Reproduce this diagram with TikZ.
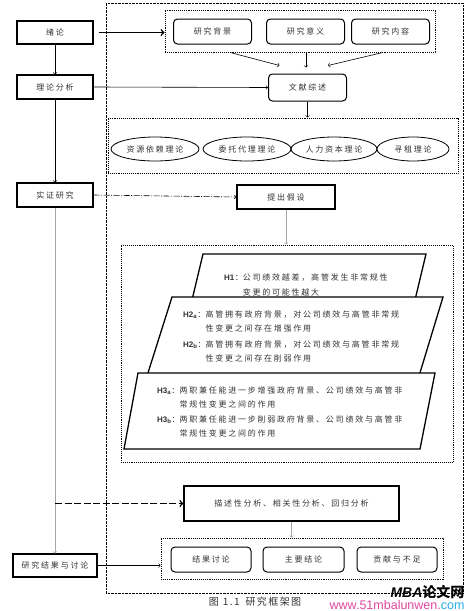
\documentclass[tikz,border=0pt]{standalone}
\usepackage{fontspec}
\setmainfont{Noto Sans CJK SC}[LetterSpace=22]
\newfontfamily\capfont{Noto Sans CJK SC}[LetterSpace=14]
\newfontfamily\markfont{Noto Sans CJK SC}
\newfontfamily\labfont{Liberation Sans}
\usetikzlibrary{shapes.geometric}
\definecolor{urlpink}{RGB}{222,70,160}
\definecolor{urlcyan}{RGB}{40,170,225}
\newcommand{\hlab}[2]{{\labfont\bfseries H#1\textsubscript{#2}}：}

\begin{document}
\begin{tikzpicture}[x=1pt,y=-1pt,
    font=\fontsize{8}{10}\selectfont,
    every node/.append style={text=black!80},
    stage/.style ={rectangle, draw, line width=1.2pt, minimum width=76pt, minimum height=24pt, inner sep=0pt},
    topic/.style ={rectangle, rounded corners=4pt, draw, line width=1pt, minimum width=78pt, minimum height=25pt, inner sep=0pt},
    theory/.style ={ellipse, draw, line width=0.8pt, minimum height=24pt, inner sep=0pt},
    group/.style ={rectangle, draw, densely dotted, line width=0.9pt, inner sep=0pt},
    hypo/.style ={draw, line width=1.3pt, fill=white},
    hyptext/.style ={anchor=west, inner sep=0pt},
    link/.style ={->, line width=0.6pt},
    greylink/.style ={->, line width=0.6pt, draw=black!35}]
   \useasboundingbox (0,0) rectangle (471,611);
   \draw[line width=0.8pt, dash pattern=on 2.5pt off 1pt] (106,3) rectangle (463,593);
   % left column
   \node[stage, minimum height=23pt] (intro) at (55,32.5) {绪论};
   \node[stage] (frame) at (55,87) {理论分析};
   \node[stage] (empiric) at (55,195) {实证研究};
   \node[stage, minimum width=84pt, minimum height=23pt] (outcome) at (55,565.5) {研究结果与讨论};
   % introduction and literature
   \node[group, minimum width=270pt, minimum height=42pt] (grpa) at (300,31) {};
   \node[topic] (bg) at (212.5,31.5) {研究背景};
   \node[topic] (sig) at (305.5,31.5) {研究意义};
   \node[topic] (cont) at (390.5,31.5) {研究内容};
   \node[topic, minimum height=27pt] (lit) at (307.5,87.5) {文献综述};
   % theories
   \node[group, minimum width=350pt, minimum height=55pt] (grpb) at (283,145.5) {};
   \node[theory, minimum width=88pt] (rdt) at (155,149) {资源依赖理论};
   \node[theory, minimum width=88pt] (agt) at (247,149) {委托代理理论};
   \node[theory, minimum width=86pt] (hct) at (334,149) {人力资本理论};
   \node[theory, minimum width=72pt] (rst) at (413,149) {寻租理论};
   % hypotheses
   \node[stage, minimum width=98pt] (hyp) at (286,197) {提出假设};
   \node[group, minimum width=332pt, minimum height=217pt] (grpc) at (287,353.5) {};
   \filldraw[hypo] (203,254) -- (426,254) -- (415,300) -- (192,300) -- cycle;
   \filldraw[hypo] (172,297) -- (443,297) -- (419,376) -- (147,376) -- cycle;
   \filldraw[hypo] (138,373) -- (435,373) -- (420,449) -- (124,449) -- cycle;
   \node[hyptext, font=\fontsize{8}{15}\selectfont] (h1) at (224,284.5)
      {\begin{tabular}{@{}l@{}l@{}}\hlab{1}{}&公司绩效越差，高管发生非常规性\\&变更的可能性越大\end{tabular}};
   \node[hyptext, font=\fontsize{8}{14}\selectfont] (h2) at (183,336.5)
      {\begin{tabular}{@{}l@{}l@{}}\hlab{2}{a}&高管拥有政府背景，对公司绩效与高管非常规\\&性变更之间存在增强作用\\[2pt]
       \hlab{2}{b}&高管拥有政府背景，对公司绩效与高管非常规\\&性变更之间存在削弱作用\end{tabular}};
   \node[hyptext, font=\fontsize{8}{14}\selectfont] (h3) at (157,412)
      {\begin{tabular}{@{}l@{}l@{}}\hlab{3}{a}&两职兼任能进一步增强政府背景、公司绩效与高管非\\&常规性变更之间的作用\\[1pt]
       \hlab{3}{b}&两职兼任能进一步削弱政府背景、公司绩效与高管非\\&常规性变更之间的作用\end{tabular}};
   % analysis and results
   \node[stage, minimum width=215pt, minimum height=35pt] (stat) at (291.5,503.5) {描述性分析、相关性分析、回归分析};
   \node[group, minimum width=282pt, minimum height=41pt] (grpd) at (302,558.5) {};
   \node[topic, minimum width=80pt] (disc) at (211,559.5) {结果讨论};
   \node[topic, minimum width=81pt] (main) at (303.5,559.5) {主要结论};
   \node[topic, minimum width=80pt] (lack) at (397,559.5) {贡献与不足};
   % connectors
   \draw[link, line width=1.5pt, shorten <=5pt] (intro.east) -- (intro.east -| grpa.west);
   \draw[link] ([xshift=-70pt]grpa.south) -- ([xshift=-28pt,yshift=8pt]lit.north);
   \draw[link] ([xshift=6pt]grpa.south) -- ([xshift=-1.5pt,yshift=6pt]lit.north);
   \draw[link] ([xshift=83pt]grpa.south) -- ([xshift=20.5pt,yshift=8pt]lit.north);
   \draw[link] (intro) -- (frame);
   \draw[link] (frame) -- (empiric);
   \draw[link] (frame.east) -- (lit.west);
   \draw[link] (lit.south) -- (lit.south |- grpb.north);
   \draw[link, dash pattern=on 6pt off 1.5pt on 1pt off 1.5pt] (empiric.east) -- (hyp.west);
   \draw[greylink] (hyp.south) -- (hyp.south |- grpc.north);
   \draw[greylink] (empiric.south) -- (outcome.north);
   \draw[link, line width=1.5pt, dash pattern=on 7pt off 2.5pt] (empiric.south |- stat.west) -- (stat.west);
   \draw[greylink] (stat.south) -- (stat.south |- grpd.north);
   \draw[link] (outcome.east) -- (outcome.east -| grpd.west);
   % caption
   \node[font=\capfont\fontsize{10}{12}\selectfont] (cap) at (255,602) {图\hspace{4pt}1.\hspace{1.5pt}1\hspace{6pt}研究框架图};
   \node[anchor=east, text=black, font=\fontsize{14}{14}\selectfont] (mark) at (468,592)
      {{\labfont\bfseries\itshape MBA}{\markfont\bfseries 论文网}};
   \node[anchor=east, font=\labfont\fontsize{12.5}{13}\selectfont] (url) at (468,605)
      {\textcolor{urlpink}{www.51mbalunwen.}\textcolor{urlcyan}{com}};
 \end{tikzpicture}
\end{document}
